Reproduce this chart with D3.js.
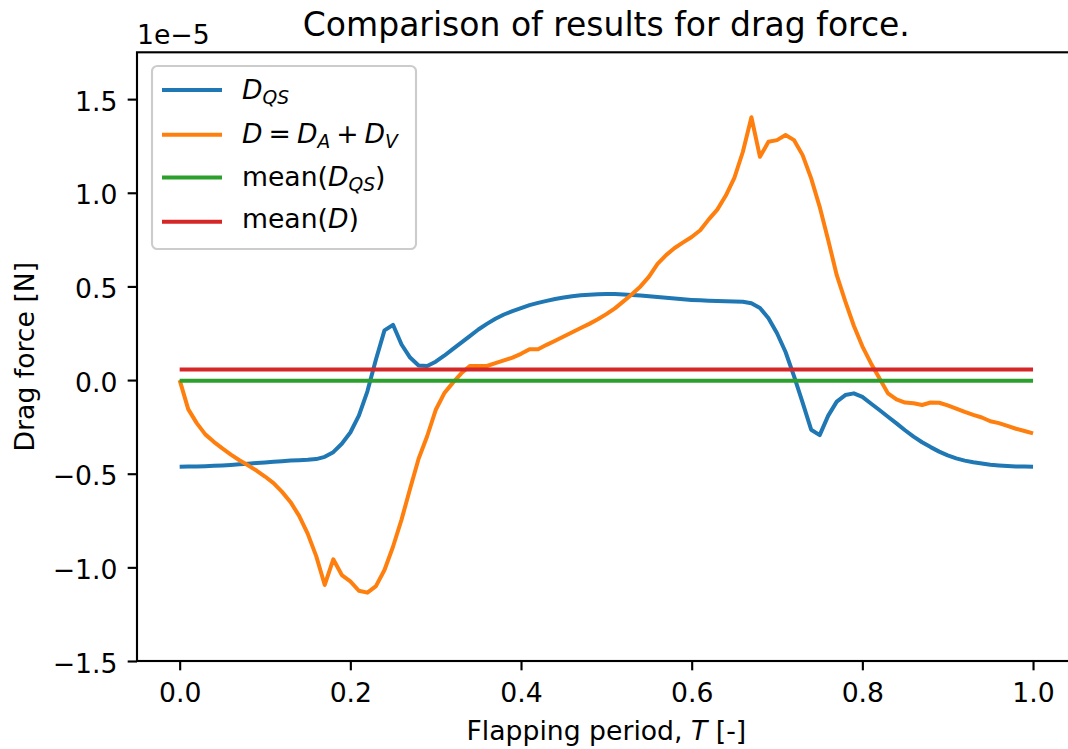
<!DOCTYPE html>
<html>
<head>
<meta charset="utf-8">
<script src="https://cdn.jsdelivr.net/npm/d3@7"></script>
<style>
  body { margin: 0; background: #fff; }
  svg { display: block; font-family: "DejaVu Sans", sans-serif; }
</style>
</head>
<body>
<svg id="chart" width="1068" height="749"></svg>
<script>
// ---- data (values in units of 1e-5 N) ----
const tValues = d3.range(0, 101).map(i => i / 100);
const dragQS = [
  -0.463, -0.462, -0.461, -0.460, -0.458, -0.456, -0.453, -0.450, -0.447, -0.443,
  -0.440, -0.436, -0.433, -0.430, -0.428, -0.426, -0.422, -0.410, -0.385, -0.340,
  -0.280, -0.190, -0.060, 0.110, 0.265, 0.295, 0.190, 0.120, 0.078, 0.075,
  0.098, 0.130, 0.165, 0.200, 0.235, 0.270, 0.300, 0.327, 0.350, 0.368,
  0.384, 0.400, 0.412, 0.423, 0.433, 0.441, 0.448, 0.453, 0.456, 0.458,
  0.459, 0.459, 0.457, 0.454, 0.451, 0.447, 0.443, 0.439, 0.435, 0.431,
  0.428, 0.426, 0.424, 0.422, 0.421, 0.420, 0.418, 0.410, 0.385, 0.330,
  0.250, 0.150, 0.020, -0.120, -0.265, -0.294, -0.190, -0.115, -0.080, -0.071,
  -0.090, -0.125, -0.160, -0.196, -0.231, -0.268, -0.302, -0.332, -0.358, -0.382,
  -0.402, -0.418, -0.430, -0.439, -0.446, -0.452, -0.456, -0.459, -0.461, -0.462,
  -0.463
];
const dragTotal = [
  0.000, -0.155, -0.230, -0.290, -0.330, -0.365, -0.398, -0.428, -0.455, -0.483,
  -0.515, -0.550, -0.597, -0.652, -0.725, -0.820, -0.940, -1.094, -0.957, -1.041,
  -1.075, -1.125, -1.135, -1.100, -1.014, -0.890, -0.745, -0.580, -0.420, -0.300,
  -0.160, -0.071, -0.015, 0.036, 0.075, 0.075, 0.075, 0.090, 0.105, 0.120,
  0.140, 0.164, 0.164, 0.188, 0.210, 0.233, 0.255, 0.278, 0.300, 0.325,
  0.352, 0.383, 0.420, 0.458, 0.500, 0.552, 0.620, 0.667, 0.705, 0.735,
  0.764, 0.800, 0.858, 0.910, 0.985, 1.080, 1.219, 1.403, 1.192, 1.272,
  1.281, 1.308, 1.281, 1.201, 1.077, 0.925, 0.747, 0.560, 0.420, 0.290,
  0.180, 0.090, 0.010, -0.071, -0.103, -0.120, -0.124, -0.133, -0.120, -0.121,
  -0.135, -0.152, -0.170, -0.186, -0.200, -0.220, -0.230, -0.245, -0.260, -0.272,
  -0.285
];
const meanQS = -0.004;
const meanTotal = 0.056;
const xTicks = [0.0, 0.2, 0.4, 0.6, 0.8, 1.0];
const yTicks = [-1.5, -1.0, -0.5, 0.0, 0.5, 1.0, 1.5];
const colors = ["#1f77b4", "#ff7f0e", "#2ca02c", "#d62728"];

// ---- layout ----
const svg = d3.select("#chart");
const mLeft = 137, mRight = 1075.7, mTop = 52.3, mBottom = 661;
const FS = 26.67;
const x = d3.scaleLinear().domain([-0.05, 1.05]).range([mLeft, mRight]);
const y = d3.scaleLinear().domain([-1.5, 1.75]).range([mBottom, mTop]);
const fmt = d3.format(".1f");

svg.append("clipPath").attr("id", "clip")
  .append("rect").attr("x", mLeft).attr("y", mTop)
  .attr("width", mRight - mLeft).attr("height", mBottom - mTop);

const plot = svg.append("g").attr("clip-path", "url(#clip)");
const line = d3.line().x(d => x(d[0])).y(d => y(d[1]));

const series = [
  tValues.map((t, i) => [t, dragQS[i]]),
  tValues.map((t, i) => [t, dragTotal[i]]),
  [[tValues[0], meanQS], [tValues[tValues.length - 1], meanQS]],
  [[tValues[0], meanTotal], [tValues[tValues.length - 1], meanTotal]]
];
series.forEach((s, i) => {
  plot.append("path").datum(s)
    .attr("d", line)
    .attr("fill", "none")
    .attr("stroke", colors[i])
    .attr("stroke-width", 4)
    .attr("stroke-linejoin", "round")
    .attr("stroke-linecap", "butt");
});

// axes
const xAxis = d3.axisBottom(x).tickValues(xTicks).tickFormat(fmt).tickSize(9.33).tickPadding(9.33);
const yAxis = d3.axisLeft(y).tickValues(yTicks).tickFormat(fmt).tickSize(9.33).tickPadding(9.33);
const gx = svg.append("g").attr("transform", `translate(0,${mBottom})`).call(xAxis);
const gy = svg.append("g").attr("transform", `translate(${mLeft},0)`).call(yAxis);
[gx, gy].forEach(g => {
  g.select(".domain").remove();
  g.selectAll(".tick line").attr("stroke", "#000").attr("stroke-width", 2.13);
  g.selectAll(".tick text").attr("font-size", FS).attr("font-family", "DejaVu Sans").attr("fill", "#000");
});
gx.selectAll(".tick text").attr("dy", null).attr("y", 41.3);
gy.selectAll(".tick text").attr("dy", 11).attr("x", -19.5);

// frame
svg.append("rect").attr("x", mLeft).attr("y", mTop)
  .attr("width", mRight - mLeft).attr("height", mBottom - mTop)
  .attr("fill", "none").attr("stroke", "#000").attr("stroke-width", 2.13);

// offset text
svg.append("text").attr("x", mLeft).attr("y", 44.3)
  .attr("font-size", FS).text("1e\u22125");

// title
svg.append("text").attr("x", (mLeft + mRight) / 2).attr("y", 36.3)
  .attr("text-anchor", "middle").attr("font-size", 33)
  .text("Comparison of results for drag force.");

// x label
const xl = svg.append("text").attr("x", (mLeft + mRight) / 2).attr("y", 740)
  .attr("text-anchor", "middle").attr("font-size", FS);
xl.append("tspan").text("Flapping period, ");
xl.append("tspan").attr("font-style", "italic").text("T");
xl.append("tspan").text(" [-]");

// y label
svg.append("text")
  .attr("transform", `translate(34.3,${(mTop + mBottom) / 2}) rotate(-90)`)
  .attr("text-anchor", "middle").attr("font-size", FS)
  .text("Drag force [N]");

// legend
const lg = svg.append("g");
lg.append("rect").attr("x", 152).attr("y", 66).attr("width", 264).attr("height", 183)
  .attr("rx", 5.3).attr("fill", "#fff").attr("fill-opacity", 0.8)
  .attr("stroke", "#cccccc").attr("stroke-width", 2.13);
const rowLine = [90, 134.7, 177.5, 221.7];
const rowBase = [99.3, 142.7, 186, 228.3];
const labels = [
  [["D", "i"], ["QS", "s"]],
  [["D", "i"], ["=", "o"], ["D", "i"], ["A", "s"], ["+", "o"], ["D", "i"], ["V", "s"]],
  [["mean(", "n"], ["D", "i"], ["QS", "s"], [")", "n"]],
  [["mean(", "n"], ["D", "i"], [")", "n"]]
];
labels.forEach((parts, i) => {
  lg.append("line").attr("x1", 162).attr("x2", 222)
    .attr("y1", rowLine[i]).attr("y2", rowLine[i])
    .attr("stroke", colors[i]).attr("stroke-width", 4);
  const t = lg.append("text").attr("x", 242).attr("y", rowBase[i]).attr("font-size", FS);
  let shifted = false;
  let pendingDx = 0;
  parts.forEach(([s, k]) => {
    const ts = t.append("tspan").text(s);
    let dy = 0;
    if (k === "s") {
      ts.attr("font-style", "italic").attr("font-size", 18.7);
      if (!shifted) dy = 5;
      shifted = true;
    } else {
      if (k === "i") ts.attr("font-style", "italic");
      if (shifted) { dy = -5; shifted = false; }
    }
    let dx = pendingDx;
    pendingDx = 0;
    if (k === "o") { dx += 6; pendingDx = 6; }
    if (dy) ts.attr("dy", dy);
    if (dx) ts.attr("dx", dx);
  });
});
</script>
</body>
</html>
